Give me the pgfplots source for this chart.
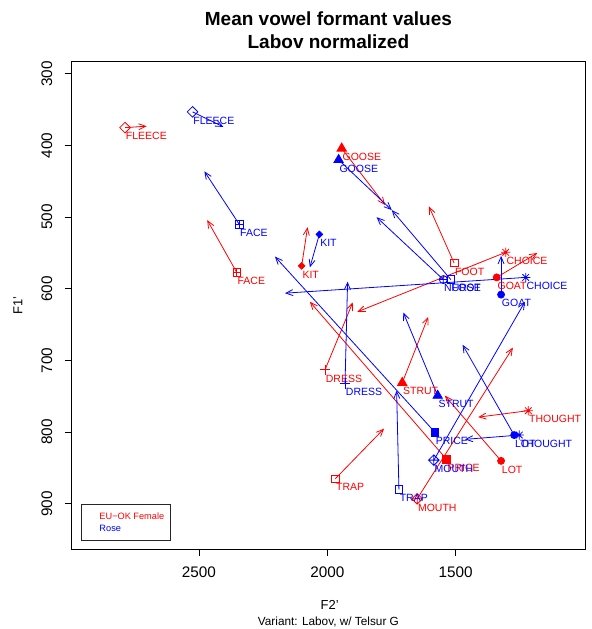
\documentclass[border=0pt]{standalone}
\usepackage{fontspec}
\setmainfont{Liberation Sans}
\usepackage{pgfplots}
\pgfplotsset{compat=1.18}
\usepackage{pgfplotstable}
\usetikzlibrary{arrows.meta}

% R-like plot marks
\pgfdeclareplotmark{Rdiam}{\pgfpathmoveto{\pgfpoint{0bp}{5.3bp}}\pgfpathlineto{\pgfpoint{5.3bp}{0bp}}\pgfpathlineto{\pgfpoint{0bp}{-5.3bp}}\pgfpathlineto{\pgfpoint{-5.3bp}{0bp}}\pgfpathclose\pgfusepathqstroke}
\pgfdeclareplotmark{Rdplus}{\pgfpathmoveto{\pgfpoint{0bp}{5.3bp}}\pgfpathlineto{\pgfpoint{5.3bp}{0bp}}\pgfpathlineto{\pgfpoint{0bp}{-5.3bp}}\pgfpathlineto{\pgfpoint{-5.3bp}{0bp}}\pgfpathclose
  \pgfpathmoveto{\pgfpoint{0bp}{5.3bp}}\pgfpathlineto{\pgfpoint{0bp}{-5.3bp}}\pgfpathmoveto{\pgfpoint{-5.3bp}{0bp}}\pgfpathlineto{\pgfpoint{5.3bp}{0bp}}\pgfusepathqstroke}
\pgfdeclareplotmark{Rsq}{\pgfpathrectangle{\pgfpoint{-3.8bp}{-3.8bp}}{\pgfpoint{7.6bp}{7.6bp}}\pgfusepathqstroke}
\pgfdeclareplotmark{Rsqplus}{\pgfpathrectangle{\pgfpoint{-3.8bp}{-3.8bp}}{\pgfpoint{7.6bp}{7.6bp}}
  \pgfpathmoveto{\pgfpoint{0bp}{3.8bp}}\pgfpathlineto{\pgfpoint{0bp}{-3.8bp}}\pgfpathmoveto{\pgfpoint{-3.8bp}{0bp}}\pgfpathlineto{\pgfpoint{3.8bp}{0bp}}\pgfusepathqstroke}
\pgfdeclareplotmark{Rsqf}{\pgfpathrectangle{\pgfpoint{-3.8bp}{-3.8bp}}{\pgfpoint{7.6bp}{7.6bp}}\pgfusepathqfillstroke}
\pgfdeclareplotmark{Rtri}{\pgfpathmoveto{\pgfpoint{0bp}{5.4bp}}\pgfpathlineto{\pgfpoint{4.7bp}{-2.7bp}}\pgfpathlineto{\pgfpoint{-4.7bp}{-2.7bp}}\pgfpathclose\pgfusepathqfillstroke}
\pgfdeclareplotmark{Rdot}{\pgfpathcircle{\pgfpointorigin}{3.5bp}\pgfusepathqfillstroke}
\pgfdeclareplotmark{Rsdiam}{\pgfpathmoveto{\pgfpoint{0bp}{3.3bp}}\pgfpathlineto{\pgfpoint{3.3bp}{0bp}}\pgfpathlineto{\pgfpoint{0bp}{-3.3bp}}\pgfpathlineto{\pgfpoint{-3.3bp}{0bp}}\pgfpathclose\pgfusepathqfillstroke}
\pgfdeclareplotmark{Rplus}{\pgfpathmoveto{\pgfpoint{0bp}{5.3bp}}\pgfpathlineto{\pgfpoint{0bp}{-5.3bp}}\pgfpathmoveto{\pgfpoint{-5.3bp}{0bp}}\pgfpathlineto{\pgfpoint{5.3bp}{0bp}}\pgfusepathqstroke}
\pgfdeclareplotmark{Rast}{\pgfpathmoveto{\pgfpoint{0bp}{4.6bp}}\pgfpathlineto{\pgfpoint{0bp}{-4.6bp}}\pgfpathmoveto{\pgfpoint{-4.6bp}{0bp}}\pgfpathlineto{\pgfpoint{4.6bp}{0bp}}
  \pgfpathmoveto{\pgfpoint{-3.3bp}{-3.3bp}}\pgfpathlineto{\pgfpoint{3.3bp}{3.3bp}}\pgfpathmoveto{\pgfpoint{-3.3bp}{3.3bp}}\pgfpathlineto{\pgfpoint{3.3bp}{-3.3bp}}\pgfusepathqstroke}
\pgfdeclareplotmark{Roplus}{\pgfpathcircle{\pgfpointorigin}{4bp}
  \pgfpathmoveto{\pgfpoint{0bp}{4bp}}\pgfpathlineto{\pgfpoint{0bp}{-4bp}}\pgfpathmoveto{\pgfpoint{-4bp}{0bp}}\pgfpathlineto{\pgfpoint{4bp}{0bp}}\pgfusepathqstroke}

\newcommand\lbl{\fontsize{10.5bp}{12bp}\selectfont}

% vowel onsets (f2, f1) and glide ends (e2, e1)
\pgfplotstableread{
label f2 f1 e2 e1
FLEECE 2788 375 2704 373
FACE 2353 577 2468 504
KIT 2100 568 2077 514
GOOSE 1944 404 1775 483
FOOT 1506 564 1604 485
CHOICE 1305 549 1883 632
GOAT 1340 584 1182 550
DRESS 2009 713 1901 619
STRUT 1708 731 1607 639
PRICE 1535 838 2068 618
THOUGHT 1217 770 1412 779
LOT 1323 840 1542 749
MOUTH 1650 893 1277 682
TRAP 1969 865 1779 795
}\redtab

\pgfplotstableread{
label f2 f1 e2 e1
FLEECE 2525 353 2405 374
FACE 2343 510 2479 436
KIT 2031 524 2068 570
GOOSE 1956 420 1749 490
FOOT 1519 587 1749 490
NURSE 1548 587 1808 500
CHOICE 1227 584 2165 606
GOAT 1323 608 1323 554
DRESS 1931 732 1921 590
STRUT 1570 749 1704 633
PRICE 1581 800 2204 555
THOUGHT 1252 804 1464 810
LOT 1272 804 1473 678
MOUTH 1585 839 1230 618
TRAP 1721 880 1730 742
}\bluetab

\pgfplotsset{
  vmark/.style={only marks, color=#1, draw=#1, fill=#1,
    mark options={line width=0.8bp, solid, draw=#1, fill=#1},
    point meta=explicit symbolic, nodes near coords,
    every node near coord/.append style={anchor=north west, inner sep=0pt,
      xshift=0.5bp, yshift=-4.5bp, text=#1, font=\lbl}},
}

\begin{document}
\begin{tikzpicture}
\begin{axis}[
  scale only axis, width=513.3bp, height=487.3bp,
  at={(0,0)}, anchor=south west,
  x dir=reverse, y dir=reverse,
  xmin=996, xmax=2996, ymin=283, ymax=963,
  xtick={1500,2000,2500}, xticklabels={1500,2000,2500},
  ytick={300,400,500,600,700,800,900},
  yticklabels={300,400,500,600,700,800,900},
  tick align=outside, xtick pos=bottom, ytick pos=left,
  major tick length=7bp,
  every tick/.style={black, line width=0.8bp},
  axis line style={line width=0.8bp},
  ticklabel style={font=\fontsize{15.3bp}{18bp}\selectfont},
  xticklabel style={anchor=base, yshift=-21bp},
  yticklabel style={anchor=base, xshift=-12.5bp, rotate=90},
]
% ---- EU-OK Female (red)
\addplot[red, mark=none, line width=0.8bp, -{Straight Barb[length=7bp,width=6bp]},
  quiver={u=\thisrow{e2}-\thisrow{f2}, v=\thisrow{e1}-\thisrow{f1}}]
  table[x=f2,y=f1] {\redtab};
\addplot[vmark=red, mark=Rdiam]   coordinates {(2788,375) [FLEECE]};
\addplot[vmark=red, mark=Rsqplus] coordinates {(2353,577) [FACE]};
\addplot[vmark=red, mark=Rsdiam]  coordinates {(2100,568) [KIT]};
\addplot[vmark=red, mark=Rtri]    coordinates {(1944,404) [GOOSE] (1708,731) [STRUT]};
\addplot[vmark=red, mark=Rsq]     coordinates {(1506,564) [FOOT] (1969,865) [TRAP]};
\addplot[vmark=red, mark=Rast]    coordinates {(1305,549) [CHOICE] (1217,770) [THOUGHT]};
\addplot[vmark=red, mark=Rdot]    coordinates {(1340,584) [GOAT] (1323,840) [LOT]};
\addplot[vmark=red, mark=Rplus]   coordinates {(2009,713) [DRESS]};
\addplot[vmark=red, mark=Rsqf]    coordinates {(1535,838) [PRICE]};
\addplot[vmark=red, mark=Rdplus]  coordinates {(1650,893) [MOUTH]};
% ---- Rose (blue)
\addplot[blue, mark=none, line width=0.8bp, -{Straight Barb[length=7bp,width=6bp]},
  quiver={u=\thisrow{e2}-\thisrow{f2}, v=\thisrow{e1}-\thisrow{f1}}]
  table[x=f2,y=f1] {\bluetab};
\addplot[vmark=blue, mark=Rdiam]   coordinates {(2525,353) [FLEECE]};
\addplot[vmark=blue, mark=Rsqplus] coordinates {(2343,510) [FACE]};
\addplot[vmark=blue, mark=Rsdiam]  coordinates {(2031,524) [KIT]};
\addplot[vmark=blue, mark=Rtri]    coordinates {(1956,420) [GOOSE] (1570,749) [STRUT]};
\addplot[vmark=blue, mark=Rsq]     coordinates {(1519,587) [FOOT] (1721,880) [TRAP]};
\addplot[vmark=blue, mark=Roplus]  coordinates {(1548,587) [NURSE]};
\addplot[vmark=blue, mark=Rast]    coordinates {(1227,584) [CHOICE] (1252,804) [THOUGHT]};
\addplot[vmark=blue, mark=Rdot]    coordinates {(1323,608) [GOAT] (1272,804) [LOT]};
\addplot[vmark=blue, mark=Rplus]   coordinates {(1931,732) [DRESS]};
\addplot[vmark=blue, mark=Rsqf]    coordinates {(1581,800) [PRICE]};
\addplot[vmark=blue, mark=Rdplus]  coordinates {(1585,839) [MOUTH]};
\end{axis}
\begin{scope}[x=1bp,y=1bp]
  \node[anchor=base, font=\fontsize{19bp}{22bp}\selectfont\bfseries, inner sep=0pt] at (256.7,523.5) {Mean vowel formant values};
  \node[anchor=base, font=\fontsize{19bp}{22bp}\selectfont\bfseries, inner sep=0pt] at (256.7,500.5) {Labov normalized};
  \node[anchor=base, font=\fontsize{13bp}{15bp}\selectfont, inner sep=0pt] at (258,-60) {F2'};
  \node[anchor=base, font=\fontsize{11.8bp}{14bp}\selectfont, inner sep=0pt] at (256.7,-76) {Variant: Labov, w/ Telsur G};
  \node[anchor=base, rotate=90, font=\fontsize{13bp}{15bp}\selectfont, inner sep=0pt] at (-49.2,243.6) {F1'};
  \draw[line width=0.8bp, black!85] (10,8.3) rectangle (99,45);
  \node[anchor=west, inner sep=0pt, text=red, font=\fontsize{9.2bp}{11bp}\selectfont] at (27.6,33) {EU−OK Female};
  \node[anchor=west, inner sep=0pt, text=blue, font=\fontsize{9.2bp}{11bp}\selectfont] at (27.6,20.3) {Rose};
  \pgfresetboundingbox
  \path[use as bounding box] (-71.7,-80) rectangle (520.3,549);
\end{scope}
\end{tikzpicture}
\end{document}
